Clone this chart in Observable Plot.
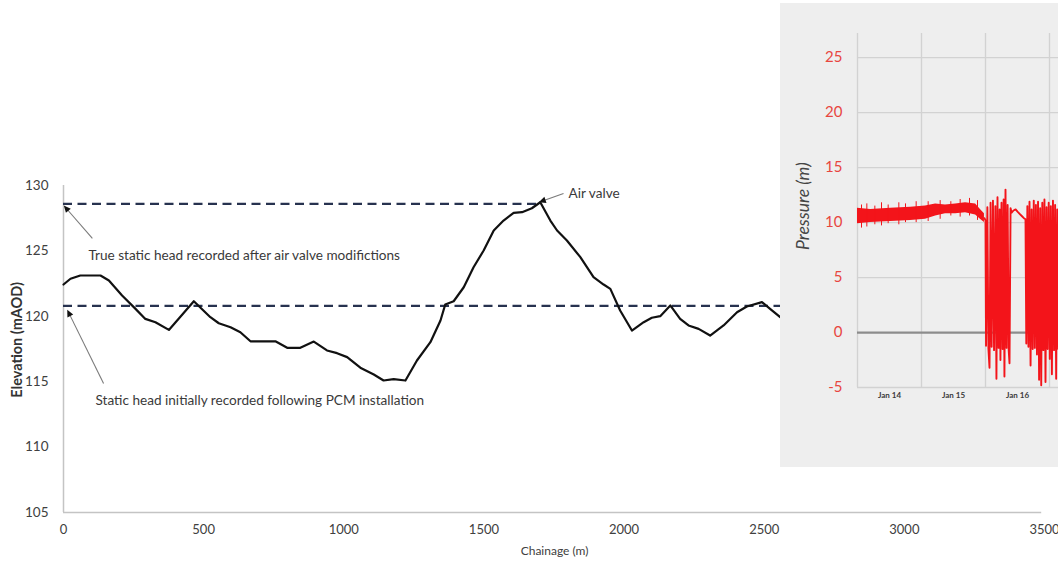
<!DOCTYPE html>
<html>
<head>
<meta charset="utf-8">
<script src="https://cdn.jsdelivr.net/npm/d3@7"></script>
<script src="https://cdn.jsdelivr.net/npm/@observablehq/plot@0.6"></script>
<style>
  html, body { margin: 0; padding: 0; background: #ffffff; }
  #wrap { position: relative; width: 1058px; height: 564px; overflow: hidden; background: #ffffff; }
  #main { position: absolute; left: 0; top: 0; }
  #inset { position: absolute; left: 780px; top: 3px; width: 400px; height: 464px; overflow: hidden; background: #eeeeee; }
  svg { max-width: none !important; }
</style>
</head>
<body>
<div id="wrap">
  <div id="main"></div>
  <div id="inset"></div>
</div>
<script>
// ---------- Main chart data: pipeline elevation profile ----------
const chainage = [0, 25, 60, 132, 162, 209, 257, 292, 328, 376, 465, 524, 554, 596, 631, 667, 756, 798, 845, 893, 940, 976, 1012, 1059, 1107, 1142, 1178, 1220, 1261, 1309, 1345, 1362, 1392, 1428, 1463, 1499, 1535, 1570, 1606, 1636, 1671, 1701, 1737, 1761, 1796, 1844, 1891, 1927, 1951, 1986, 2028, 2070, 2099, 2129, 2165, 2200, 2230, 2266, 2307, 2355, 2403, 2438, 2492, 2521, 2557, 2600];
const elevation = [122.43, 122.87, 123.12, 123.12, 122.74, 121.59, 120.57, 119.80, 119.54, 118.96, 121.15, 119.93, 119.47, 119.16, 118.78, 118.09, 118.09, 117.59, 117.59, 118.07, 117.39, 117.18, 116.88, 116.07, 115.55, 115.09, 115.19, 115.09, 116.62, 118.02, 119.68, 120.90, 121.15, 122.22, 123.75, 125.03, 126.56, 127.32, 127.91, 127.96, 128.26, 128.72, 127.32, 126.56, 125.80, 124.52, 122.99, 122.43, 122.10, 120.44, 118.91, 119.55, 119.89, 120.01, 120.83, 119.81, 119.30, 119.04, 118.53, 119.30, 120.31, 120.75, 121.08, 120.57, 119.93, 119.2];

const staticHeadLevels = [128.6, 120.8];
const staticHeadEnds = [1701, 3500];

const elevationTicks = [105, 110, 115, 120, 125, 130];
const chainageTicks = [0, 500, 1000, 1500, 2000, 2500, 3000, 3500];

const noteLabels = ["True static head recorded after air valve modifictions", "Static head initially recorded following PCM installation", "Air valve"];
const noteChainage = [89, 114, 1802];
const noteElevation = [124.65, 113.56, 129.39];
const arrowFromChainage = [103, 143, 1784];
const arrowFromElevation = [125.95, 114.86, 129.39];
const arrowToChainage = [8, 18, 1706];
const arrowToElevation = [128.3, 120.3, 128.8];

// ---------- Inset data: pressure logger (hours after 13 Jan 12:00) ----------
const insetStart = "2016-01-13T12:00:00Z";
const insetEnd = "2016-01-18T12:00:00Z";
const gridDays = ["2016-01-13T12:00:00Z", "2016-01-14T12:00:00Z", "2016-01-15T12:00:00Z", "2016-01-16T12:00:00Z", "2016-01-17T12:00:00Z"];
const dayTicks = ["2016-01-14", "2016-01-15", "2016-01-16"];
const pressureTicks = [-5, 0, 5, 10, 15, 20, 25];

const bandHours = [0, 4.9, 12.4, 19.9, 25.5, 29.3, 33, 36.8, 40.5, 44.3, 46.1, 47.6];
const bandLow   = [9.9, 10.0, 10.1, 10.2, 10.3, 10.6, 10.8, 10.8, 10.9, 10.7, 10.3, 10.0];
const bandHigh  = [11.3, 11.2, 11.3, 11.4, 11.5, 11.7, 11.6, 11.7, 11.8, 11.7, 11.2, 10.8];

const spikeHours = [1.5, 3.5, 6.5, 9.0, 11.5, 15.5, 18.0, 22.0, 26.5, 31.0, 35.0, 38.5, 42.0, 45.0];
const spikeLow   = [9.5, 9.6, 9.8, 9.7, 9.9, 9.8, 10.0, 10.0, 10.1, 10.3, 10.6, 10.5, 10.6, 10.2];
const spikeHigh  = [11.6, 11.7, 11.5, 11.8, 11.6, 11.8, 11.7, 11.9, 11.9, 12.0, 11.9, 12.1, 12.2, 12.0];

const surgeHours = [47.6, 48.0, 48.2, 48.7, 49.1, 49.5, 49.9, 50.3, 50.8, 51.2, 51.7, 52.1, 52.5, 52.9, 53.3, 53.6, 54.0, 54.4, 54.8, 55.1, 55.5, 55.9, 56.3, 56.7, 57.0, 57.4,
  57.8, 58.5, 59.3, 60.0, 60.8, 61.6, 62.4, 63.0,
  63.3, 63.7, 64.1, 64.5, 64.9, 65.3, 65.7, 66.1, 66.5, 66.9, 67.3, 67.7, 68.1, 68.5, 68.9, 69.3, 69.7, 70.1, 70.5, 70.9, 71.3, 71.7, 72.1, 72.5, 72.9, 73.3, 73.7, 74.1, 74.5, 74.9, 75.3, 75.7, 76.1, 76.5];
const surgePressure = [10.4, 10.2, -1.2, 11.4, -1.5, -3.2, 11.8, -1.3, 12.0, -1.6, 11.5, -4.2, 12.3, -1.4, 11.2, -2.5, 11.8, -1.5, 12.1, -4.0, 13.0, -1.4, 11.6, -1.6, -2.8, 11.3,
  10.9, 11.1, 11.2, 11.0, 10.8, 10.6, 10.4, 10.3,
  -1.0, 11.5, -1.3, 11.9, -3.0, 11.2, -1.5, 12.0, -1.4, 11.6, -2.0, 11.9, -4.3, 11.3, -4.8, 11.8, -1.6, 12.1, -4.5, 11.4, -1.5, 11.8, -2.4, 11.5, -3.8, 12.0, -1.6, 11.6, -4.2, 11.2, -1.5, 11.8, -2.0, 11.4];

// ---------- Build main chart ----------
const font = "Lato, 'Open Sans', sans-serif";
const profile = chainage.map((c, i) => ({c, v: elevation[i]}));
const heads = staticHeadLevels.map((v, i) => ({v, to: staticHeadEnds[i]}));
const notes = noteLabels.map((label, i) => ({label, c: noteChainage[i], v: noteElevation[i]}));
const arrows = noteLabels.map((label, i) => ({x1: arrowFromChainage[i], y1: arrowFromElevation[i], x2: arrowToChainage[i], y2: arrowToElevation[i]}));

const main = Plot.plot({
  width: 1058,
  height: 564,
  marginLeft: 63,
  marginRight: 14,
  marginTop: 185,
  marginBottom: 52,
  x: {domain: [0, 3500], axis: null},
  y: {domain: [105, 130], axis: null},
  style: {fontFamily: font, background: "transparent", color: "#3a3a3a", overflow: "visible"},
  marks: [
    Plot.ruleX([0], {y1: 105, y2: 130, stroke: "#c4c4c4", strokeWidth: 1.5}),
    Plot.ruleY([105], {x1: 0, x2: 3490, stroke: "#c4c4c4", strokeWidth: 1.5}),
    Plot.text(elevationTicks, {y: d => d, text: d => String(d), frameAnchor: "left", dx: -15, textAnchor: "end", fontSize: 13.5, fill: "#404040"}),
    Plot.text(chainageTicks, {x: d => d, text: d => String(d), frameAnchor: "bottom", dy: 21, textAnchor: "middle", fontSize: 13, fill: "#404040"}),
    Plot.text(["Elevation (mAOD)"], {frameAnchor: "left", dx: -46, y: 118.2, rotate: -90, textAnchor: "middle", fontSize: 14.5, fontWeight: "bold", fill: "#333"}),
    Plot.text(["Chainage (m)"], {x: 1752, frameAnchor: "bottom", dy: 42, textAnchor: "middle", fontSize: 12, fill: "#404040"}),
    Plot.ruleY(heads, {y: "v", x1: 0, x2: "to", stroke: "#27324f", strokeWidth: 2.2, strokeDasharray: "9,5.5"}),
    Plot.line(profile, {x: "c", y: "v", stroke: "#111111", strokeWidth: 2.2}),
    Plot.link(arrows, {x1: "x1", y1: "y1", x2: "x2", y2: "y2", stroke: "#7a7a7a", strokeWidth: 1.1, markerEnd: "arrow"}),
    Plot.text(notes, {x: "c", y: "v", text: "label", textAnchor: "start", fontSize: 13.6, fill: "#3a3a3a"})
  ]
});
d3.select(main).selectAll("marker")
  .attr("markerUnits", "userSpaceOnUse")
  .attr("markerWidth", 10)
  .attr("markerHeight", 10)
  .selectAll("path")
  .attr("d", "M-4,-3.2L3,0L-4,3.2Z")
  .attr("fill", "#111")
  .attr("stroke", "none");
document.getElementById("main").append(main);

// ---------- Build inset chart ----------
const t0 = new Date(insetStart).getTime();
const toDate = h => new Date(t0 + h * 3600e3);
const band = bandHours.map((h, i) => ({t: toDate(h), lo: bandLow[i], hi: bandHigh[i]}));
const spikes = spikeHours.map((h, i) => ({t: toDate(h), lo: spikeLow[i], hi: spikeHigh[i]}));
const surge = surgeHours.map((h, i) => ({t: toDate(h), p: surgePressure[i]}));
const red = "#f3141a";

const inset = Plot.plot({
  width: 397,
  height: 464,
  marginLeft: 77,
  marginRight: 0,
  marginTop: 30,
  marginBottom: 80,
  x: {type: "utc", domain: [new Date(insetStart), new Date(insetEnd)], axis: null},
  y: {domain: [-5, 27.2], axis: null},
  style: {fontFamily: font, background: "transparent", overflow: "visible"},
  marks: [
    Plot.ruleX(gridDays.map(d => new Date(d)), {x: d => d, stroke: "#d2d2d2", strokeWidth: 1.3}),
    Plot.ruleY(pressureTicks.filter(d => d !== 0), {y: d => d, stroke: "#d2d2d2", strokeWidth: 1.3}),
    Plot.ruleY([0], {y: d => d, stroke: "#8c8c8c", strokeWidth: 2.2}),
    Plot.areaY(band, {x: "t", y1: "lo", y2: "hi", fill: red, curve: "linear"}),
    Plot.ruleX(spikes, {x: "t", y1: "lo", y2: "hi", stroke: red, strokeWidth: 1}),
    Plot.line(surge, {x: "t", y: "p", stroke: red, strokeWidth: 1.9}),
    Plot.text(pressureTicks, {y: d => d, text: d => String(d), frameAnchor: "left", dx: -15, textAnchor: "end", fontSize: 15, fill: "#e8463f"}),
    Plot.text(dayTicks.map(d => new Date(d)), {x: d => d, text: d => d3.utcFormat("%b %-d")(d), frameAnchor: "bottom", dy: 10, textAnchor: "middle", fontSize: 8, fontWeight: "bold", fill: "#3a3a3a"}),
    Plot.text(["Pressure (m)"], {frameAnchor: "left", dx: -54, y: 11.5, rotate: -90, textAnchor: "middle", fontSize: 17.5, fontStyle: "italic", fill: "#444"})
  ]
});
document.getElementById("inset").append(inset);
</script>
</body>
</html>
